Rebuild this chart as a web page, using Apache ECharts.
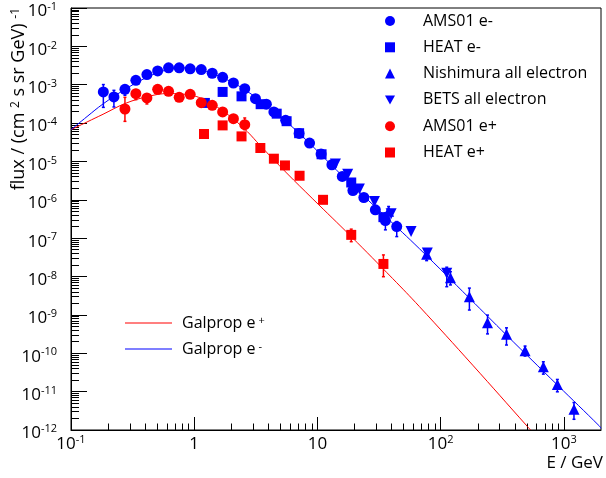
<!DOCTYPE html>
<html><head><meta charset="utf-8">
<script src="https://cdn.jsdelivr.net/npm/echarts@6/dist/echarts.min.js"></script>
<style>html,body{margin:0;padding:0;background:#fff}#c{width:606px;height:478px}</style>
</head><body><div id="c"></div>
<script>
// ---- tick labels ----
const xTicks = [0.1, 1, 10, 100, 1000];
const yTicks = [1e-12,1e-11,1e-10,1e-9,1e-8,1e-7,1e-6,1e-5,1e-4,1e-3,1e-2,1e-1];
const xMinor = [];
for (let d = 0.1; d < 1000; d *= 10) for (let k = 2; k <= 9; k++) xMinor.push(+(k * d).toPrecision(3));
const yMinor = [];
for (let e = -12; e < -1; e++) for (let k = 2; k <= 9; k++) yMinor.push(+(k * Math.pow(10, e)).toPrecision(3));

// ---- data [E (GeV), flux] ----
const amsElectron = [[0.183,6.49e-4],[0.223,4.80e-4],[0.274,7.59e-4],[0.336,1.30e-3],[0.413,1.84e-3],[0.505,2.29e-3],[0.619,2.75e-3],[0.755,2.75e-3],[0.927,2.59e-3],[1.14,2.48e-3],[1.40,1.99e-3],[1.70,1.56e-3],[2.08,1.11e-3],[2.57,7.91e-4],[3.14,4.34e-4],[3.85,3.11e-4],[4.43,1.95e-4],[5.52,1.18e-4],[7.10,5.38e-5],[8.63,3.02e-5],[10.7,1.56e-5],[13.1,8.20e-6],[15.9,4.06e-6],[19.4,1.75e-6],[23.8,1.15e-6],[29.5,5.48e-7],[35.6,2.88e-7],[44.0,2.01e-7]];
const heatElectron = [[1.22,3.35e-4],[1.70,6.49e-4],[2.42,4.98e-4],[3.46,3.11e-4],[4.67,1.76e-4],[5.62,1.12e-4],[7.10,5.45e-5],[10.8,1.54e-5],[18.8,2.83e-6],[34.3,3.53e-7]];
const nishimuraAll = [[37.8,5.0e-7],[76.9,3.82e-8],[120,9.35e-9],[171,2.99e-9],[240,6.25e-10],[342,3.11e-10],[484,1.16e-10],[681,4.44e-11],[885,1.54e-11],[1207,3.49e-12]];
const betsAll = [[14.0,8.55e-6],[17.6,4.63e-6],[21.9,1.90e-6],[29.0,9.03e-7],[39.6,4.31e-7],[57.5,1.49e-7],[77.9,4.13e-8],[112,1.22e-8]];
const amsPositron = [[0.274,2.33e-4],[0.336,5.86e-4],[0.413,4.52e-4],[0.505,7.59e-4],[0.619,6.73e-4],[0.755,4.69e-4],[0.927,5.61e-4],[1.14,3.41e-4],[1.40,2.90e-4],[1.70,1.95e-4],[2.08,1.30e-4],[2.57,9.08e-5]];
const heatPositron = [[1.20,5.19e-5],[1.70,8.71e-5],[2.42,4.50e-5],[3.44,2.24e-5],[4.43,1.18e-5],[5.45,7.87e-6],[7.16,4.24e-6],[11.1,1.0e-6],[18.8,1.22e-7],[34.3,2.13e-8]];
// error bars [E, low, high]
const errBlue = [[0.183,2.57e-4,1.01e-3],[0.223,2.63e-4,7.14e-4],[0.274,5.3e-4,9.1e-4],[35.6,1.65e-7,4.54e-7],[44.0,1.10e-7,2.71e-7],[37.8,3.3e-7,6.7e-7],[76.9,2.60e-8,5.16e-8],[112,5.44e-9,1.75e-8],[120,6.04e-9,1.34e-8],[171,1.34e-9,5.0e-9],[240,3.2e-10,9.9e-10],[342,1.64e-10,4.6e-10],[484,8.45e-11,1.54e-10],[681,2.86e-11,6.0e-11],[885,9.9e-12,2.08e-11],[1207,1.9e-12,5.2e-12]];
const errRed = [[0.274,1.11e-4,4.69e-4],[0.336,4.08e-4,7.45e-4],[0.413,3.15e-4,5.52e-4],[0.619,5.4e-4,8.0e-4],[2.57,6.73e-5,1.36e-4],[18.8,8.1e-8,1.72e-7],[34.3,9.9e-9,3.66e-8]];
// Galprop model curves
const galpropPositron = [[0.1,6.7e-5],[0.135,1.07e-4],[0.182,1.70e-4],[0.275,3.24e-4],[0.417,4.90e-4],[0.617,5.89e-4],[0.933,5.37e-4],[1.148,4.37e-4],[1.396,3.16e-4],[1.698,2.09e-4],[2.089,1.26e-4],[2.692,6.03e-5],[3.42,2.63e-5],[5.62,5.01e-6],[9.18,1.05e-6],[18.8,1.10e-7],[40.7,8.91e-9],[67.1,1.66e-9],[182,4.90e-11],[506,1.23e-12],[537,1.0e-12]];
const galpropElectron = [[0.1,6.7e-5],[0.135,1.48e-4],[0.182,3.16e-4],[0.275,7.59e-4],[0.417,1.58e-3],[0.617,2.51e-3],[0.794,2.75e-3],[1.13,2.40e-3],[1.71,1.51e-3],[2.57,7.41e-4],[4.45,2.00e-4],[7.18,5.25e-5],[16.0,4.17e-6],[35.8,3.63e-7],[67.5,5.25e-8],[172,2.69e-9],[343,2.95e-10],[887,1.48e-11],[1945,1.26e-12],[2000,1.1e-12]];

const FONT = "'Open Sans', sans-serif";
const BLUE = '#0000ff', RED = '#ff0000';
const supRich = {
  b: {fontSize: 17, fontFamily: FONT, color: '#000', lineHeight: 20},
  s: {fontSize: 11, fontFamily: FONT, color: '#000', lineHeight: 12, verticalAlign: 'top'}
};
function powLabel(v) {
  const e = Math.round(Math.log10(v));
  if (e === 0) return '{b|1}';
  if (e === 1) return '{b|10}';
  return '{b|10}{s|' + e + '}';
}
function errRender(color) {
  return function (params, api) {
    const x = api.value(0), lo = api.value(1), hi = api.value(2);
    const a = api.coord([x, lo]), b = api.coord([x, hi]);
    const st = {stroke: color, lineWidth: 1.5};
    return {type: 'group', children: [
      {type: 'line', shape: {x1: a[0], y1: a[1], x2: b[0], y2: b[1]}, style: st},
      {type: 'line', shape: {x1: a[0] - 1.5, y1: a[1], x2: a[0] + 1.5, y2: a[1]}, style: st},
      {type: 'line', shape: {x1: b[0] - 1.5, y1: b[1], x2: b[0] + 1.5, y2: b[1]}, style: st}
    ]};
  };
}
const downTri = 'path://M0,0L2,0L1,1.8Z';

const chart = echarts.init(document.getElementById('c'));
chart.setOption({
  animation: false,
  backgroundColor: '#fff',
  grid: {left: 71, right: 5, top: 8, bottom: 48, show: true, borderColor: '#000', borderWidth: 1, outerBoundsMode: 'none'},
  xAxis: [{
    type: 'log', logBase: 10, min: 0.1, max: 2000, position: 'bottom',
    axisLine: {onZero: false, lineStyle: {color: '#000', width: 1}},
    axisTick: {inside: true, length: 13, customValues: xTicks, lineStyle: {color: '#000'}},
    axisLabel: {customValues: xTicks, formatter: powLabel, rich: supRich, margin: 4},
    splitLine: {show: false}, minorTick: {show: false}
  }, {
    type: 'log', logBase: 10, min: 0.1, max: 2000, position: 'bottom',
    axisLine: {show: false, onZero: false},
    axisTick: {inside: true, length: 6.5, customValues: xMinor, lineStyle: {color: '#000'}},
    axisLabel: {show: false}, splitLine: {show: false}
  }],
  yAxis: [{
    type: 'log', logBase: 10, min: 1e-12, max: 1e-1, position: 'left',
    axisLine: {onZero: false, lineStyle: {color: '#000', width: 1}},
    axisTick: {inside: true, length: 16, customValues: yTicks, lineStyle: {color: '#000'}},
    axisLabel: {customValues: yTicks, formatter: powLabel, rich: supRich, margin: 14, padding: [7, 0, 0, 0]},
    splitLine: {show: false}
  }, {
    type: 'log', logBase: 10, min: 1e-12, max: 1e-1, position: 'left',
    axisLine: {show: false, onZero: false},
    axisTick: {inside: true, length: 8, customValues: yMinor, lineStyle: {color: '#000'}},
    axisLabel: {show: false}, splitLine: {show: false}
  }],
  legend: [{
    data: ['AMS01 e-', 'HEAT e-', 'Nishimura all electron', 'BETS all electron', 'AMS01 e+', 'HEAT e+'],
    orient: 'vertical', left: 385, top: 13, padding: 0, itemWidth: 10, itemHeight: 10, itemGap: 10.3,
    textStyle: {fontSize: 16, fontFamily: FONT, color: '#000', lineHeight: 16, padding: [0, 0, 0, 23]},
    selectedMode: false
  }, {
    data: ['Galprop e+', 'Galprop e-'],
    orient: 'vertical', left: 125, top: 315, padding: 0, icon: 'rect', itemWidth: 47, itemHeight: 1, itemGap: 10,
    formatter: n => n === 'Galprop e+' ? 'Galprop e{s|+}' : 'Galprop e{s|-}',
    textStyle: {fontSize: 16, fontFamily: FONT, color: '#000', lineHeight: 16, padding: [0, 0, 0, 5],
      rich: {s: {fontSize: 11, fontFamily: FONT, color: '#000', lineHeight: 10, verticalAlign: 'top', padding: [0, 0, 0, 3]}}},
    selectedMode: false
  }],
  graphic: [{
    type: 'text', x: 19, y: 8, rotation: Math.PI / 2,
    style: {text: 'flux / (cm {s|2} s sr GeV) {s|-1}', fontSize: 18, fontFamily: FONT, fill: '#000',
      align: 'right', verticalAlign: 'middle',
      rich: {s: {fontSize: 12, fontFamily: FONT, fill: '#000', lineHeight: 12, verticalAlign: 'top'}}}
  }, {
    type: 'text', right: 3, top: 455,
    style: {text: 'E / GeV', fontSize: 17, fontFamily: FONT, fill: '#000'}
  }],
  series: [
    {name: 'Galprop e+', type: 'line', data: galpropPositron, symbol: 'none', smooth: 0.4, z: 1,
      lineStyle: {color: RED, width: 1}, itemStyle: {color: RED}},
    {name: 'Galprop e-', type: 'line', data: galpropElectron, symbol: 'none', smooth: 0.4, z: 1,
      lineStyle: {color: BLUE, width: 1}, itemStyle: {color: BLUE}},
    {name: 'errBlue', type: 'custom', renderItem: errRender(BLUE), data: errBlue, encode: {x: 0, y: [1, 2]}, z: 2},
    {name: 'errRed', type: 'custom', renderItem: errRender(RED), data: errRed, encode: {x: 0, y: [1, 2]}, z: 2},
    {name: 'AMS01 e-', type: 'scatter', data: amsElectron, symbol: 'circle', symbolSize: 11, itemStyle: {color: BLUE, opacity: 1}, z: 3},
    {name: 'HEAT e-', type: 'scatter', data: heatElectron, symbol: 'rect', symbolSize: 10, itemStyle: {color: BLUE, opacity: 1}, z: 3},
    {name: 'Nishimura all electron', type: 'scatter', data: nishimuraAll, symbol: 'triangle', symbolSize: 11, itemStyle: {color: BLUE, opacity: 1}, z: 3},
    {name: 'BETS all electron', type: 'scatter', data: betsAll, symbol: downTri, symbolSize: 11, itemStyle: {color: BLUE, opacity: 1}, z: 3},
    {name: 'AMS01 e+', type: 'scatter', data: amsPositron, symbol: 'circle', symbolSize: 11, itemStyle: {color: RED, opacity: 1}, z: 3},
    {name: 'HEAT e+', type: 'scatter', data: heatPositron, symbol: 'rect', symbolSize: 10, itemStyle: {color: RED, opacity: 1}, z: 3}
  ]
});
</script>
</body></html>
